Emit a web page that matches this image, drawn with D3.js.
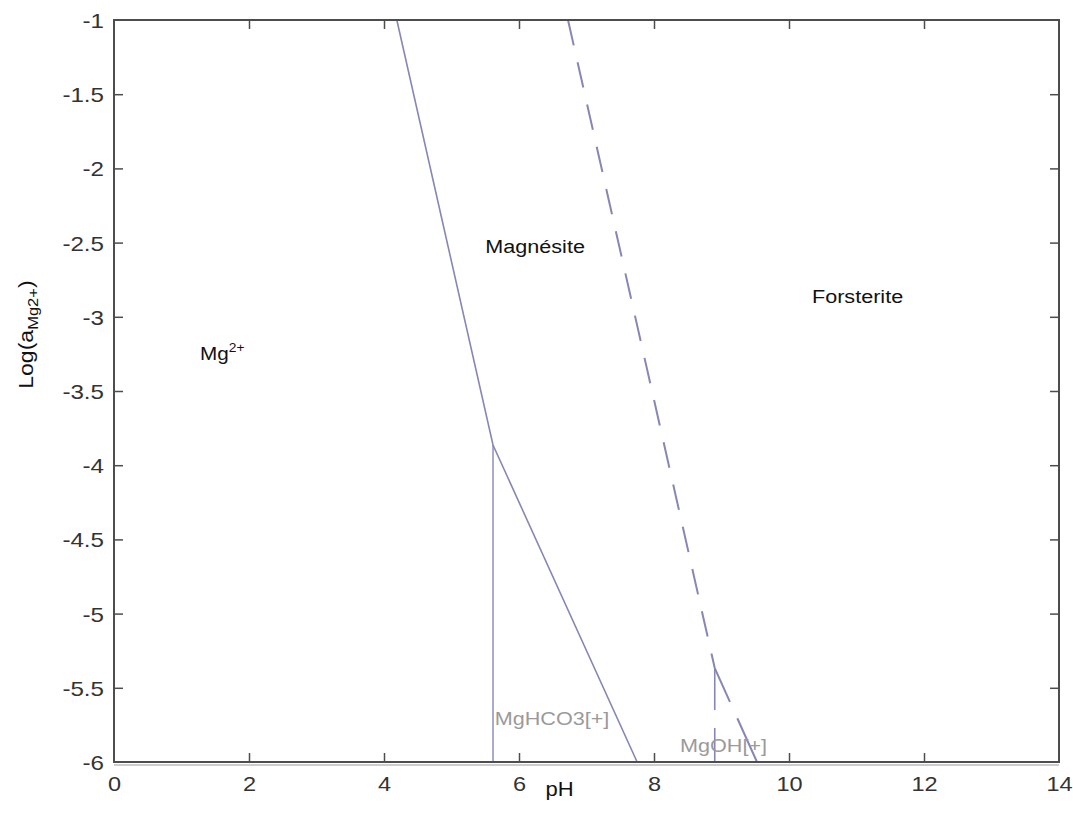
<!DOCTYPE html>
<html>
<head>
<meta charset="utf-8">
<script src="https://cdn.jsdelivr.net/npm/d3@7"></script>
<style>
  body { margin: 0; background: #fff; }
  svg { display: block; }
  text { font-family: Arial, "Liberation Sans", sans-serif; }
</style>
</head>
<body>
<svg id="chart" width="1073" height="827"></svg>
<script>
// Stability boundaries of the Mg system, pH vs log activity of Mg2+
const xTicks = [0, 2, 4, 6, 8, 10, 12, 14];
const yTicks = [-1, -1.5, -2, -2.5, -3, -3.5, -4, -4.5, -5, -5.5, -6];
const yTickLabels = ["-1", "-1.5", "-2", "-2.5", "-3", "-3.5", "-4", "-4.5", "-5", "-5.5", "-6"];

// Mg2+ / magnesite boundary, then MgHCO3+ / magnesite (solid)
const magnesiteBoundary = [[4.19, -1], [5.615, -3.864], [7.75, -6]];
// Mg2+ / MgHCO3+ boundary (solid vertical)
const mgHco3Boundary = [[5.615, -3.864], [5.615, -6]];
// Magnesite / forsterite boundary (dashed), upper and lower legs
const forsteriteUpper = [[6.726, -1], [8.90, -5.367]];
const forsteriteLower = [[8.90, -5.367], [9.526, -6]];
// MgOH+ boundary (dashed vertical)
const mgOhBoundary = [[8.90, -5.367], [8.90, -6]];

const fieldLabels = [
  { text: "Magnésite", pH: 5.50, logA: -2.57, color: "#111" },
  { text: "Forsterite", pH: 10.34, logA: -2.91, color: "#111" },
  { text: "MgHCO3[+]", pH: 5.64, logA: -5.75, color: "#9a9a9a" },
  { text: "MgOH[+]", pH: 8.385, logA: -5.93, color: "#9a9a9a" }
];

const svg = d3.select("#chart");
const margin = { left: 114, right: 14, top: 20, bottom: 65 };
const W = 1073, H = 827;
const x = d3.scaleLinear().domain([0, 14]).range([margin.left, W - margin.right]);
const y = d3.scaleLinear().domain([-6, -1]).range([H - margin.bottom, margin.top]);

const frameColor = "#4d4d4d";
const lineColor = "#8787b5";

// widen glyphs horizontally by a factor, keeping the anchor
function stretch(sel, k) {
  sel.each(function () {
    const w = this.getComputedTextLength();
    d3.select(this).attr("textLength", w * k).attr("lengthAdjust", "spacingAndGlyphs");
  });
}

// light band under the bottom axis
svg.append("line")
  .attr("x1", x(0)).attr("x2", x(14))
  .attr("y1", y(-6) + 3).attr("y2", y(-6) + 3)
  .attr("stroke", "#bdbdbd").attr("stroke-width", 1.5);

const line = d3.line().x(d => x(d[0])).y(d => y(d[1]));

svg.append("path").datum(magnesiteBoundary)
  .attr("d", line).attr("fill", "none")
  .attr("stroke", lineColor).attr("stroke-width", 1.6);
svg.append("path").datum(mgHco3Boundary)
  .attr("d", line).attr("fill", "none")
  .attr("stroke", lineColor).attr("stroke-width", 1.4);
svg.append("path").datum(forsteriteUpper)
  .attr("d", line).attr("fill", "none")
  .attr("stroke", lineColor).attr("stroke-width", 2)
  .attr("stroke-dasharray", "26,17.3");
svg.append("path").datum(forsteriteLower)
  .attr("d", line).attr("fill", "none")
  .attr("stroke", lineColor).attr("stroke-width", 2)
  .attr("stroke-dasharray", "37,18,60");
svg.append("path").datum(mgOhBoundary)
  .attr("d", line).attr("fill", "none")
  .attr("stroke", lineColor).attr("stroke-width", 1.6)
  .attr("stroke-dasharray", "42,18,40");

// axes with inward ticks on all four sides
const tick = 9;
const axB = d3.axisBottom(x).tickValues(xTicks).tickSizeInner(-tick).tickSizeOuter(0).tickPadding(14)
  .tickFormat(d3.format("d"));
const axT = d3.axisTop(x).tickValues(xTicks).tickSizeInner(-tick).tickSizeOuter(0).tickFormat("");
const axL = d3.axisLeft(y).tickValues(yTicks).tickSizeInner(-tick).tickSizeOuter(0).tickPadding(10)
  .tickFormat((d, i) => yTickLabels[i]);
const axR = d3.axisRight(y).tickValues(yTicks).tickSizeInner(-tick).tickSizeOuter(0).tickFormat("");

function style(g) {
  g.select(".domain").remove();
  g.selectAll(".tick line").attr("stroke", frameColor).attr("stroke-width", 1.5);
  g.selectAll(".tick text").attr("fill", "#333").attr("font-size", 21)
    .attr("font-family", "Arial, 'Liberation Sans', sans-serif");
}
const gB = svg.append("g").attr("transform", `translate(0,${y(-6)})`).call(axB).call(style);
svg.append("g").attr("transform", `translate(0,${y(-1)})`).call(axT).call(style);
const gL = svg.append("g").attr("transform", `translate(${x(0)},0)`).call(axL).call(style);
svg.append("g").attr("transform", `translate(${x(14)},0)`).call(axR).call(style);
stretch(gB.selectAll(".tick text"), 1.12);
stretch(gL.selectAll(".tick text"), 1.15);
gL.selectAll(".tick text").attr("dy", "0.36em");

// drop ticks that would sit on the frame corners
svg.selectAll(".tick").filter(d => d === 0 || d === 14 || d === -1 || d === -6)
  .select("line").remove();

// frame
svg.append("rect")
  .attr("x", x(0)).attr("y", y(-1))
  .attr("width", x(14) - x(0)).attr("height", y(-6) - y(-1))
  .attr("fill", "none").attr("stroke", frameColor).attr("stroke-width", 2);

// field labels
const fl = svg.selectAll("text.field").data(fieldLabels).enter().append("text")
  .attr("class", "field")
  .attr("x", d => x(d.pH)).attr("y", d => y(d.logA))
  .attr("font-size", 18).attr("fill", d => d.color)
  .text(d => d.text);
stretch(fl, 1.2);

const mg = svg.append("text")
  .attr("x", x(1.274)).attr("y", y(-3.29))
  .attr("font-size", 18).attr("fill", "#111");
mg.append("tspan").text("Mg");
mg.append("tspan").attr("dy", -8).attr("font-size", 12).text("2+");
stretch(mg, 1.15);

// axis titles
const ph = svg.append("text")
  .attr("x", x(6.6)).attr("y", 796)
  .attr("text-anchor", "middle").attr("font-size", 20).attr("fill", "#111")
  .text("pH");
stretch(ph, 1.1);

const yt = svg.append("text")
  .attr("transform", `translate(33, ${y(-3.12)}) rotate(-90)`)
  .attr("text-anchor", "middle").attr("font-size", 21).attr("fill", "#111");
yt.append("tspan").text("Log(a");
yt.append("tspan").attr("dy", 5).attr("font-size", 15).text("Mg2+");
yt.append("tspan").attr("dy", -5).text(")");
stretch(yt, 1.1);
</script>
</body>
</html>
